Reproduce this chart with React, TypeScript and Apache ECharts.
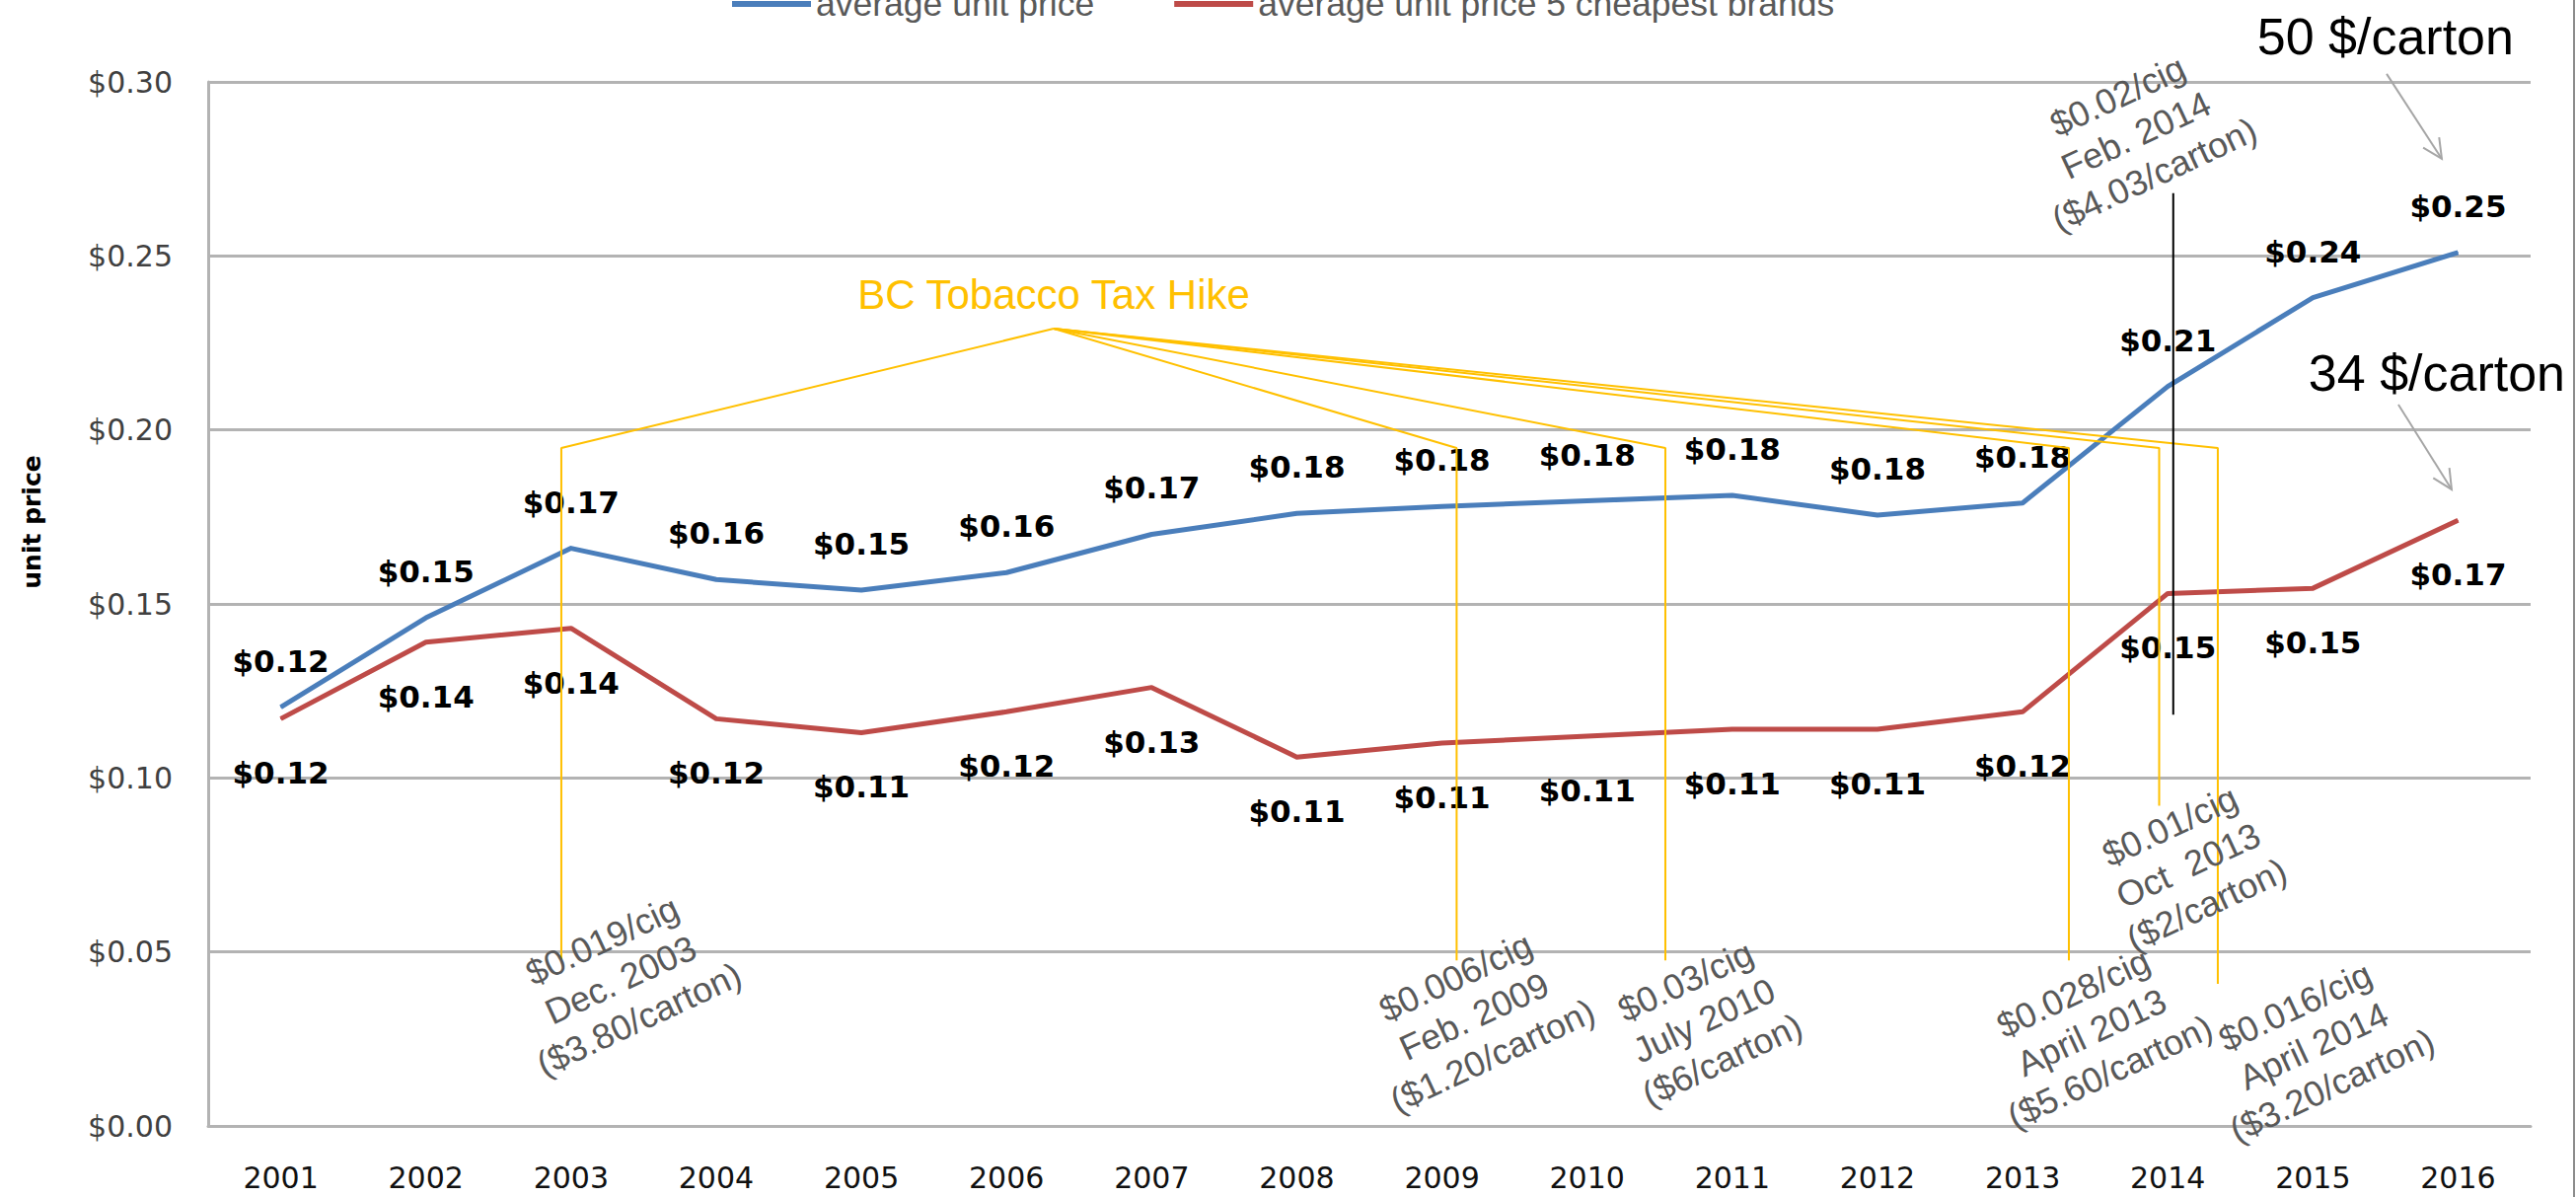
import React, { useEffect, useRef } from "react";
import * as echarts from "echarts";

// ---------- data ----------
const years = ["2001", "2002", "2003", "2004", "2005", "2006", "2007", "2008", "2009", "2010", "2011", "2012", "2013", "2014", "2015", "2016"];
const avgUnitPrice = [0.1203, 0.146, 0.166, 0.157, 0.154, 0.159, 0.170, 0.176, 0.178, 0.1796, 0.1812, 0.1755, 0.179, 0.2125, 0.238, 0.251];
const cheapestUnitPrice = [0.117, 0.139, 0.143, 0.117, 0.113, 0.119, 0.126, 0.106, 0.110, 0.112, 0.114, 0.114, 0.119, 0.153, 0.1545, 0.174];
const seriesNames = ["average unit price", "average unit price 5 cheapest brands"];
const yMin = 0;
const yMax = 0.3;
const yStep = 0.05;
const yAxisTitle = "unit price";

// annotations, x in category-index units (2001 = 0), y in $ per cigarette
const hikeTitle = "BC Tobacco Tax Hike";
const hikeTitleAt = [5.325, 0.239];
const hikeHub = [5.325, 0.2291];
const hikeX = [1.933, 8.101, 9.539, 12.319, 12.941, 13.345];
const hikeTop = [0.1948, 0.1948, 0.1948, 0.1948, 0.1948, 0.1948];
const hikeBottom = [0.0476, 0.0476, 0.0476, 0.0476, 0.092, 0.0408];
const hikeLabels = [
  "$0.019/cig\nDec. 2003\n($3.80/carton)",
  "$0.006/cig\nFeb. 2009\n($1.20/carton)",
  "$0.03/cig\nJuly 2010\n($6/carton)",
  "$0.028/cig\nApril 2013\n($5.60/carton)",
  "$0.01/cig\nOct  2013\n($2/carton)",
  "$0.016/cig\nApril 2014\n($3.20/carton)",
];
const hikeLabelAt = [
  [2.341, 0.042],
  [8.221, 0.0315],
  [9.804, 0.0303],
  [12.475, 0.0269],
  [13.141, 0.0749],
  [14.005, 0.023],
];
const feb2014Line = [[13.038, 0.268], [13.038, 0.1182]];
const feb2014Label = "$0.02/cig\nFeb. 2014\n($4.03/carton)";
const feb2014LabelAt = [12.781, 0.2847];
const cartonNotes = ["50 $/carton", "34 $/carton"];
const cartonNoteAt = [[14.5, 0.313], [14.854, 0.2164]];
const cartonArrows = [
  [[14.508, 0.3023], [14.888, 0.2779]],
  [[14.589, 0.2073], [14.956, 0.1829]],
];

// ---------- styles ----------
const W = 2611;
const H = 1213;
const BLUE = "#4A7EBB";
const RED = "#BE4B48";
const GOLD = "#FFC000";
const GRID = "#B3B3B3";
const NOTE = "#595959";
const fmt = (v: number) => "$" + v.toFixed(2);

export default function App() {
  const ref = useRef<HTMLDivElement>(null);

  useEffect(() => {
    if (!ref.current) return;
    const chart = echarts.init(ref.current, null, { renderer: "svg" });

    const hikeSeries = hikeX.map((x, i) => ({
      type: "line",
      xAxisIndex: 1,
      yAxisIndex: 0,
      data: [hikeHub, [x, hikeTop[i]], [x, hikeBottom[i]]],
      symbol: "none",
      silent: true,
      z: 4,
      lineStyle: { color: GOLD, width: 2 },
    }));

    chart.setOption({
      animation: false,
      backgroundColor: "#ffffff",
      legend: {
        data: seriesNames,
        left: 742,
        top: -14,
        padding: 0,
        itemGap: 81,
        itemWidth: 80,
        itemHeight: 6,
        icon: "rect",
        textStyle: {
          fontFamily: '"Liberation Sans", Arial, sans-serif',
          fontSize: 35.5,
          color: NOTE,
        },
      },
      grid: { left: 211, right: 46, top: 83, bottom: 72, containLabel: false },
      xAxis: [
        {
          type: "category",
          data: years,
          boundaryGap: true,
          axisLine: { show: true, onZero: false, lineStyle: { color: GRID, width: 3 } },
          axisTick: { show: false },
          axisLabel: {
            fontFamily: '"DejaVu Sans", sans-serif',
            fontSize: 30,
            color: "#111111",
            margin: 37,
          },
        },
        { type: "value", min: -0.5, max: 15.5, show: false },
      ],
      yAxis: {
        type: "value",
        min: yMin,
        max: yMax,
        interval: yStep,
        axisLine: { show: true, onZero: false, lineStyle: { color: GRID, width: 3 } },
        axisTick: { show: false },
        splitLine: { show: true, lineStyle: { color: GRID, width: 3 } },
        axisLabel: {
          formatter: (v: number) => fmt(v),
          fontFamily: '"DejaVu Sans", sans-serif',
          fontSize: 30,
          color: "#404040",
          margin: 36,
        },
      },
      series: [
        {
          name: seriesNames[0],
          type: "line",
          data: avgUnitPrice,
          symbol: "circle",
          symbolSize: 1,
          showSymbol: true,
          itemStyle: { color: BLUE },
          lineStyle: { color: BLUE, width: 5, join: "round" },
          z: 2,
          label: {
            show: true,
            position: "top",
            distance: 31,
            formatter: (p: any) => fmt(p.value),
            fontFamily: '"DejaVu Sans", sans-serif',
            fontWeight: "bold",
            fontSize: 31,
            color: "#000000",
          },
        },
        {
          name: seriesNames[1],
          type: "line",
          data: cheapestUnitPrice,
          symbol: "circle",
          symbolSize: 1,
          showSymbol: true,
          itemStyle: { color: RED },
          lineStyle: { color: RED, width: 5, join: "round" },
          z: 2,
          label: {
            show: true,
            position: "bottom",
            distance: 39,
            formatter: (p: any) => fmt(p.value),
            fontFamily: '"DejaVu Sans", sans-serif',
            fontWeight: "bold",
            fontSize: 31,
            color: "#000000",
          },
        },
        ...hikeSeries,
        {
          type: "line",
          xAxisIndex: 1,
          yAxisIndex: 0,
          data: feb2014Line,
          symbol: "none",
          silent: true,
          z: 4,
          lineStyle: { color: "#000000", width: 2 },
        },
      ],
    });

    const toPx = (p: number[]) => chart.convertToPixel({ seriesIndex: 2 }, p) as number[];
    const rot = (25 * Math.PI) / 180;
    const noteFont = '"Liberation Sans", Arial, sans-serif';

    const textEl = (txt: string, at: number[], opts: any) => {
      const [x, y] = toPx(at);
      return {
        type: "text",
        x,
        y,
        rotation: opts.rotation || 0,
        z: 10,
        silent: true,
        style: {
          text: txt,
          fill: opts.fill,
          fontSize: opts.fontSize,
          fontFamily: opts.fontFamily || noteFont,
          fontWeight: opts.fontWeight || "normal",
          lineHeight: opts.lineHeight,
          align: "center",
          verticalAlign: "middle",
          textAlign: "center",
          textVerticalAlign: "middle",
        },
      };
    };

    const arrowEls: any[] = [];
    cartonArrows.forEach((a) => {
      const s = toPx(a[0]);
      const e = toPx(a[1]);
      const dx = e[0] - s[0];
      const dy = e[1] - s[1];
      const l = Math.hypot(dx, dy);
      const ux = dx / l;
      const uy = dy / l;
      const len = 22;
      const ang = (26 * Math.PI) / 180;
      const c = Math.cos(ang);
      const sn = Math.sin(ang);
      const w1 = [e[0] - len * (ux * c - uy * sn), e[1] - len * (ux * sn + uy * c)];
      const w2 = [e[0] - len * (ux * c + uy * sn), e[1] - len * (-ux * sn + uy * c)];
      arrowEls.push({
        type: "line",
        z: 10,
        silent: true,
        shape: { x1: s[0], y1: s[1], x2: e[0], y2: e[1] },
        style: { stroke: "#A6A6A6", lineWidth: 2 },
      });
      arrowEls.push({
        type: "polyline",
        z: 10,
        silent: true,
        shape: { points: [w1, e, w2] },
        style: { stroke: "#A6A6A6", lineWidth: 2, fill: null },
      });
    });

    chart.setOption({
      graphic: [
        textEl(hikeTitle, hikeTitleAt, { fill: GOLD, fontSize: 42 }),
        ...hikeLabels.map((t, i) =>
          textEl(t, hikeLabelAt[i], { fill: NOTE, fontSize: 36, lineHeight: 44, rotation: rot })
        ),
        textEl(feb2014Label, feb2014LabelAt, { fill: NOTE, fontSize: 36, lineHeight: 44, rotation: rot }),
        ...cartonNotes.map((t, i) => textEl(t, cartonNoteAt[i], { fill: "#000000", fontSize: 52 })),
        ...arrowEls,
        {
          type: "text",
          x: 32,
          y: 529,
          rotation: Math.PI / 2,
          silent: true,
          style: {
            text: yAxisTitle,
            fill: "#000000",
            fontSize: 25,
            fontWeight: "bold",
            fontFamily: '"DejaVu Sans", sans-serif',
            align: "center",
            verticalAlign: "middle",
            textAlign: "center",
            textVerticalAlign: "middle",
          },
        },
        {
          type: "line",
          silent: true,
          shape: { x1: W - 2, y1: 0, x2: W - 2, y2: H },
          style: { stroke: "#8C8C8C", lineWidth: 2 },
        },
      ],
    });

    return () => chart.dispose();
  }, []);

  return (
    <div
      ref={ref}
      style={{ position: "fixed", left: 0, top: 0, width: W, height: H, background: "#ffffff" }}
    />
  );
}
